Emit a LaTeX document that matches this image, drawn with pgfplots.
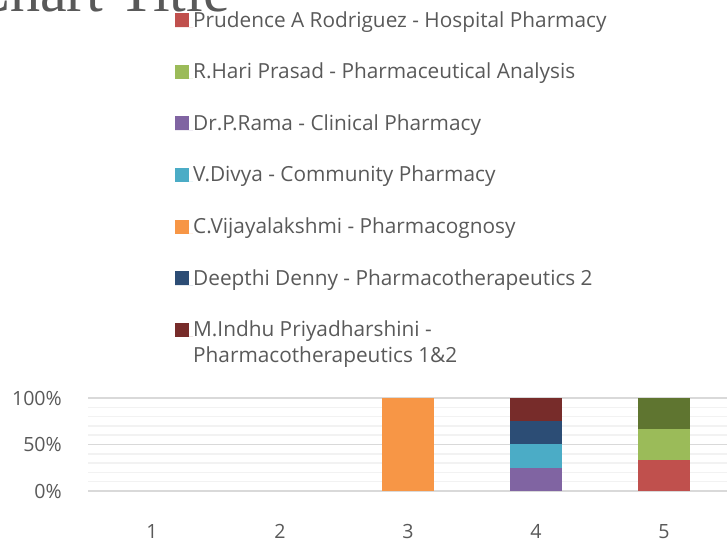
\documentclass[border=0pt]{standalone}
\usepackage{pgfplots}
\pgfplotsset{compat=1.18}
\usepackage{fontspec}
\setmainfont{Open Sans}
\newfontfamily\titlefont{Liberation Serif}
\definecolor{txt}{HTML}{595959}
\definecolor{majgrid}{HTML}{D9D9D9}
\definecolor{mingrid}{HTML}{F2F2F2}
\definecolor{cRed}{HTML}{C0504D}
\definecolor{cGreen}{HTML}{9BBB59}
\definecolor{cPurple}{HTML}{8064A2}
\definecolor{cTeal}{HTML}{4BACC6}
\definecolor{cOrange}{HTML}{F79646}
\definecolor{cDBlue}{HTML}{2C4D75}
\definecolor{cDRed}{HTML}{772C2A}
\definecolor{cOlive}{HTML}{5F7530}
\begin{document}
\begin{tikzpicture}[x=1bp,y=1bp]
\path[use as bounding box] (0,0) rectangle (727,540);
\node[anchor=base east, inner sep=0pt, text=txt, font=\titlefont\fontsize{60bp}{66bp}\selectfont] at (230,528) {Chart Title};
\begin{axis}[
  at={(88bp,49bp)}, anchor=south west,
  scale only axis, width=640bp, height=93bp,
  ybar stacked, bar width=52bp,
  xmin=0.5, xmax=5.5, ymin=0, ymax=100,
  xtick={1,2,3,4,5}, xticklabels={1,2,3,4,5},
  ytick={0,50,100}, yticklabels={0\%,50\%,100\%},
  minor ytick={10,20,30,40,60,70,80,90},
  ymajorgrids, yminorgrids,
  major grid style={majgrid, line width=1.5bp},
  minor grid style={mingrid, line width=1.5bp},
  major tick length=0pt, minor tick length=0pt,
  axis y line*=left, axis x line*=bottom,
  y axis line style={draw=none},
  x axis line style={majgrid, line width=2bp, -},
  tick style={draw=none},
  /pgf/number format/assume math mode=true,
  tick label style={font=\fontsize{19.6bp}{24bp}\selectfont, text=txt, inner sep=0pt},
  yticklabel style={anchor=east, xshift=-26bp},
  xticklabel style={anchor=north, yshift=-33bp},
  clip=false,
  legend style={at={(rel axis cs:0.1359,5.1398)}, anchor=north west, draw=none, fill=none, inner sep=0pt,
    row sep=33.6bp, column sep=0pt,
    font=\fontsize{20.8bp}{26bp}\selectfont, text=txt,
    nodes={inner sep=0pt, text height=14bp, text depth=4bp, anchor=base west}},
  legend cell align=left,
  area legend,
  legend image code/.code={\fill[#1] (0bp,0bp) rectangle (14bp,14bp); \path (0bp,0bp) -- (18bp,0bp);},
  every axis plot/.append style={draw=none},
]
\addplot[fill=cRed] coordinates {(1,0) (2,0) (3,0) (4,0) (5,33.333)};
\addlegendentry{Prudence A Rodriguez - Hospital Pharmacy}
\addplot[fill=cGreen] coordinates {(1,0) (2,0) (3,0) (4,0) (5,33.333)};
\addlegendentry{R.Hari Prasad - Pharmaceutical Analysis}
\addplot[fill=cPurple] coordinates {(1,0) (2,0) (3,0) (4,25) (5,0)};
\addlegendentry{Dr.P.Rama - Clinical Pharmacy}
\addplot[fill=cTeal] coordinates {(1,0) (2,0) (3,0) (4,25) (5,0)};
\addlegendentry{V.Divya - Community Pharmacy}
\addplot[fill=cOrange] coordinates {(1,0) (2,0) (3,100) (4,0) (5,0)};
\addlegendentry{C.Vijayalakshmi - Pharmacognosy}
\addplot[fill=cDBlue] coordinates {(1,0) (2,0) (3,0) (4,25) (5,0)};
\addlegendentry{Deepthi Denny - Pharmacotherapeutics 2}
\addplot[fill=cDRed] coordinates {(1,0) (2,0) (3,0) (4,25) (5,0)};
\addlegendentry{\parbox[t]{400bp}{\raggedright M.Indhu Priyadharshini -\\Pharmacotherapeutics 1\&2}}
\addplot[fill=cOlive, forget plot] coordinates {(1,0) (2,0) (3,0) (4,0) (5,33.334)};
\end{axis}
\end{tikzpicture}
\end{document}
